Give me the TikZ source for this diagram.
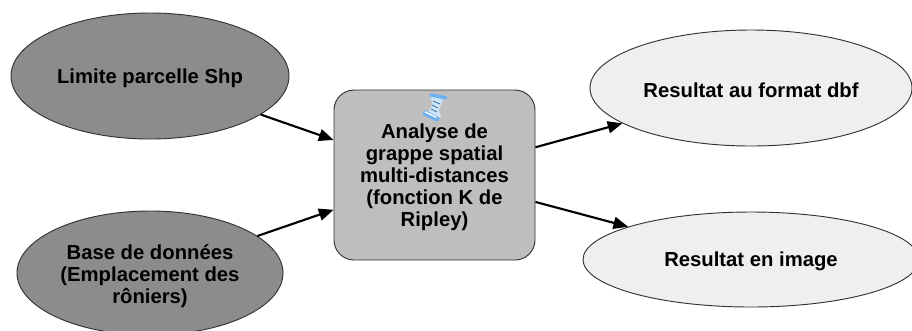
\documentclass[tikz,border=0pt]{standalone}
\usepackage{fontspec}
\setmainfont{Liberation Sans}
\usetikzlibrary{shapes.geometric,arrows.meta}
\definecolor{entree}{HTML}{8C8C8C}
\definecolor{outil}{HTML}{BEBEBE}
\definecolor{sortie}{HTML}{EFEFEF}
\definecolor{rouleau}{HTML}{6FB0F0}
\definecolor{feuille}{HTML}{CFE3F7}
\definecolor{encre}{HTML}{3C6E9E}
\newcommand{\hausse}[1]{\rule{0pt}{#1}}
\tikzset{
 txt/.style={font=\bfseries\fontsize{15.2}{16.5}\selectfont,align=center,text=black,inner sep=0pt},
 bord/.style={draw=black!80,line width=0.7pt},
 data/.style={shape=ellipse,bord,txt},
 entreedata/.style={data,fill=entree},
 sortiedata/.style={data,fill=sortie},
 outilbox/.style={rectangle,rounded corners=15pt,bord,txt,fill=outil,minimum width=150.75pt,minimum height=127.5pt},
 fleche/.style={-{Triangle[length=11pt,width=9pt]},line width=1.6pt,black},
}
\begin{document}
\begin{tikzpicture}[x=0.75pt,y=-0.75pt]
 \useasboundingbox (0,0) rectangle (912,330);
 \node[entreedata,minimum width=208.5pt,minimum height=94.5pt] (lim) at (150,76) {\hausse{14pt}Limite parcelle Shp};
 \node[entreedata,minimum width=199.5pt,minimum height=93pt] (bdd) at (150,273) {\hausse{15.5pt}Base de données\\(Emplacement des\\rôniers)};
 \node[outilbox] (ana) at (434.5,175) {\hausse{14pt}Analyse de\\grappe spatial\\multi-distances\\(fonction K de\\Ripley)};
 \node[sortiedata,minimum width=241.5pt,minimum height=87pt] (dbf) at (751,88) {\hausse{14pt}Resultat au format dbf};
 \node[sortiedata,minimum width=252pt,minimum height=71.25pt] (img) at (751,259.5) {\hausse{14pt}Resultat en image};
 \draw[fleche] (lim) -- (ana);
 \draw[fleche] (bdd) -- (ana);
 \draw[fleche] (ana) -- (dbf);
 \draw[fleche] (ana) -- (img);
 % icone
 \fill[feuille] (431,96)--(443,99)--(439,110)--(441,118)--(428,113)--(432,105)--cycle;
 \draw[rouleau,line width=2.6pt,line cap=round] (431,95)--(446,98);
 \draw[rouleau,line width=3.8pt,line cap=round] (425,113)--(437,119);
 \draw[white,line width=1pt,line cap=round] (425,112)--(436,117);
 \draw[encre,line width=0.6pt] (433,101)--(440,104) (432,105)--(438,108) (431,109)--(437,112);
\end{tikzpicture}
\end{document}
